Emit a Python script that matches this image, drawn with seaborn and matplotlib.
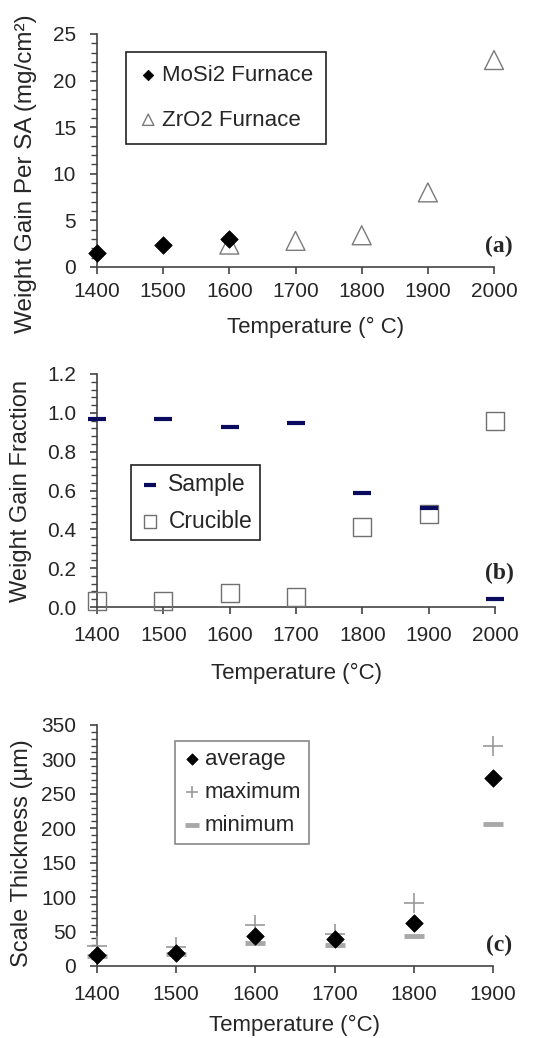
import numpy as np
import seaborn as sns
import matplotlib.pyplot as plt
from matplotlib.ticker import MultipleLocator, AutoMinorLocator

# data
temp_mosi2 = [1400, 1500, 1600]
gain_mosi2 = [1.45, 2.4, 3.0]
temp_zro2 = [1600, 1700, 1800, 1900, 2000]
gain_zro2 = [2.4, 2.8, 3.4, 8.0, 22.2]

temp_b = [1400, 1500, 1600, 1700, 1800, 1900, 2000]
frac_sample = [0.966, 0.966, 0.925, 0.947, 0.586, 0.512, 0.04]
frac_crucible = [0.03, 0.03, 0.07, 0.05, 0.41, 0.48, 0.96]

temp_c = [1400, 1500, 1600, 1700, 1800, 1900]
thick_avg = [16, 19, 44, 39, 63, 273]
thick_max = [29, 27, 59, 46, 92, 320]
thick_min = [14, 17, 33, 31, 44, 206]

sns.set_style("ticks")
plt.rcParams['font.family'] = ['Liberation Sans', 'DejaVu Sans']

fig = plt.figure(figsize=(5.48, 10.38), dpi=100)
ax_a = fig.add_axes([0.177, 0.7428, 0.7245, 0.2245])
ax_b = fig.add_axes([0.177, 0.4152, 0.7263, 0.2245])
ax_c = fig.add_axes([0.177, 0.0694, 0.7226, 0.2322])

spine_col = '#444444'


def style_axis(ax, xmax, ymax, ystep, xpad):
    ax.set_xlim(1400, xmax)
    ax.set_ylim(0, ymax)
    ax.xaxis.set_major_locator(MultipleLocator(100))
    ax.yaxis.set_major_locator(MultipleLocator(ystep))
    ax.yaxis.set_minor_locator(AutoMinorLocator(5))
    for s in ['top', 'right']:
        ax.spines[s].set_visible(False)
    for s in ['left', 'bottom']:
        ax.spines[s].set_color(spine_col)
        ax.spines[s].set_linewidth(1.2)
    ax.tick_params(axis='x', which='major', direction='out', length=5, width=1.2,
                   color=spine_col, labelsize=15, pad=xpad)
    ax.tick_params(axis='y', which='major', direction='out', length=5, width=1.2,
                   color=spine_col, labelsize=15, pad=10)
    ax.tick_params(axis='y', which='minor', direction='out', length=4, width=1.0,
                   color=spine_col)


def panel_label(ax, txt, y):
    ax.text(1.048, y, txt, transform=ax.transAxes, ha='right', va='center',
            fontsize=17, fontweight='bold', family=['Liberation Serif', 'DejaVu Serif'])


# (a)
sns.scatterplot(x=temp_zro2, y=gain_zro2, ax=ax_a, marker='^', s=185,
                facecolor='none', edgecolor='#7a7a7a', linewidth=1.0,
                clip_on=False, zorder=3, label='ZrO2 Furnace')
sns.scatterplot(x=temp_mosi2, y=gain_mosi2, ax=ax_a, marker='D', s=80,
                color='black', edgecolor='black', linewidth=0.5,
                clip_on=False, zorder=4, label='MoSi2 Furnace')
style_axis(ax_a, 2000, 25, 5, 6)
ax_a.set_xlabel('Temperature (° C)', fontsize=16)
ax_a.set_ylabel('Weight Gain Per SA (mg/cm²)', fontsize=17.5)
ax_a.xaxis.set_label_coords(0.55, -0.215)
ax_a.yaxis.set_label_coords(-0.152, 0.40)
h, l = ax_a.get_legend_handles_labels()
leg = ax_a.legend(h[::-1], l[::-1], loc='upper left', bbox_to_anchor=(0.073, 0.923),
                  borderaxespad=0, fontsize=16, markerscale=0.6, handlelength=0.8,
                  handletextpad=0.2, borderpad=0.6, labelspacing=1.05, fancybox=False,
                  framealpha=1, edgecolor='#222222')
leg.get_frame().set_linewidth(1.2)
panel_label(ax_a, '(a)', 0.086)

# (b)
sns.scatterplot(x=temp_b, y=frac_sample, ax=ax_b, marker='_', s=160,
                color='#0a0a5e', linewidth=3.0, clip_on=False, zorder=4,
                label='Sample')
sns.scatterplot(x=temp_b, y=frac_crucible, ax=ax_b, marker='s', s=170,
                facecolor='none', edgecolor='#707070', linewidth=1.0,
                clip_on=False, zorder=3, label='Crucible')
style_axis(ax_b, 2000, 1.2, 0.2, 9)
ax_b.yaxis.set_major_formatter(plt.FormatStrFormatter('%.1f'))
ax_b.set_xlabel('Temperature (°C)', fontsize=16)
ax_b.set_ylabel('Weight Gain Fraction', fontsize=17)
ax_b.xaxis.set_label_coords(0.5, -0.24)
ax_b.yaxis.set_label_coords(-0.163, 0.5)
leg = ax_b.legend(loc='upper left', bbox_to_anchor=(0.085, 0.609),
                  borderaxespad=0, fontsize=16.5, markerscale=0.7, handlelength=1.0,
                  handletextpad=0.3, borderpad=0.34, labelspacing=0.6, fancybox=False,
                  framealpha=1, edgecolor='#222222')
leg.get_frame().set_linewidth(1.2)
panel_label(ax_b, '(b)', 0.146)

# (c)
sns.scatterplot(x=temp_c, y=thick_max, ax=ax_c, marker='+', s=200,
                color='#9a9a9a', linewidth=1.2, clip_on=False, zorder=3,
                label='maximum')
sns.scatterplot(x=temp_c, y=thick_min, ax=ax_c, marker='_', s=220,
                color='#a8a8a8', linewidth=3.5, clip_on=False, zorder=3,
                label='minimum')
sns.scatterplot(x=temp_c, y=thick_avg, ax=ax_c, marker='D', s=80,
                color='black', edgecolor='black', linewidth=0.5,
                clip_on=False, zorder=4, label='average')
style_axis(ax_c, 1900, 350, 50, 9)
ax_c.set_xlabel('Temperature (°C)', fontsize=16)
ax_c.set_ylabel('Scale Thickness (µm)', fontsize=17)
ax_c.xaxis.set_label_coords(0.5, -0.205)
ax_c.yaxis.set_label_coords(-0.162, 0.47)
h, l = ax_c.get_legend_handles_labels()
order = [2, 0, 1]
leg = ax_c.legend([h[i] for i in order], [l[i] for i in order], loc='upper left',
                  bbox_to_anchor=(0.197, 0.934), borderaxespad=0, fontsize=16,
                  markerscale=0.65, handlelength=0.8, handletextpad=0.2,
                  borderpad=0.35, labelspacing=0.55, fancybox=False, framealpha=1,
                  edgecolor='#888888')
leg.get_frame().set_linewidth(1.2)
panel_label(ax_c, '(c)', 0.087)

fig.savefig('out.png', dpi=100)
